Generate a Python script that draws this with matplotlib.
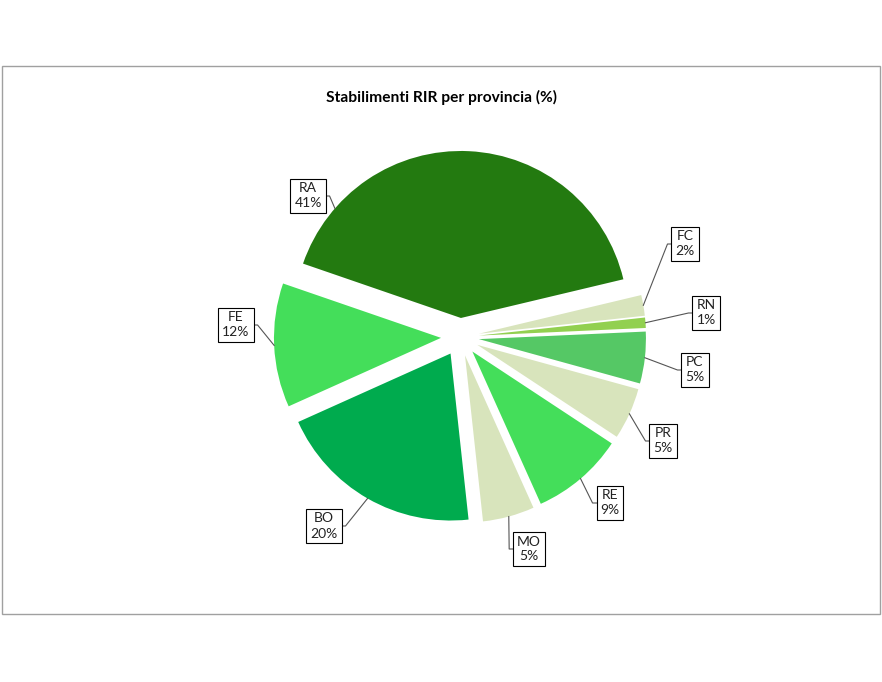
import matplotlib
matplotlib.use('Agg')
import matplotlib.pyplot as plt
from matplotlib.patches import Rectangle
import numpy as np

# Dati: stabilimenti RIR per provincia (%)
province = ['RA', 'FC', 'RN', 'PC', 'PR', 'RE', 'MO', 'BO', 'FE']
percentuali = [41, 2, 1, 5, 5, 9, 5, 20, 12]
colori = ['#237a10', '#d8e4bc', '#92d050', '#55c865', '#d8e4bc',
          '#44de5a', '#d8e4bc', '#00ab4e', '#44de5a']

# layout (pixel of figure, 882x682)
W, H = 882, 682
cx, cy, R = 460, 337, 167
label_px = [(308, 196), (685, 244), (706, 313), (695, 370), (663, 441),
            (610, 503), (529, 549), (324, 526), (236, 325)]
# angolo di aggancio della linea guida (None = centro fetta)
anchor_ang = [139, None, None, None, None, None, None, None, None]

def px2data(px, py):
    return (px - cx) / R, (cy - py) / R

plt.rcParams['font.family'] = ['Lato', 'DejaVu Sans']

fig = plt.figure(figsize=(W / 100, H / 100), dpi=100)
ax = fig.add_axes([0, 0, 1, 1])

wedges, _ = ax.pie(percentuali, colors=colori, explode=[0.114] * len(percentuali),
                   startangle=161, counterclock=False, radius=1,
                   wedgeprops=dict(linewidth=0))
ax.set_xlim(-cx / R, (W - cx) / R)
ax.set_ylim(-(H - cy) / R, cy / R)
ax.set_aspect('auto')
ax.axis('off')

# bordo area grafico
fig.patches.append(Rectangle((1.5 / W, 1 - 614 / H), 878.5 / W, 548 / H,
                             transform=fig.transFigure, fill=False,
                             edgecolor='#a0a0a0', linewidth=1))

fig.text(442 / W, 1 - 97 / H, 'Stabilimenti RIR per provincia (%)',
         ha='center', va='center', fontsize=11.2, fontweight='bold', color='black')

testi = []
for i, (p, v) in enumerate(zip(province, percentuali)):
    x, y = px2data(*label_px[i])
    t = ax.text(x, y, '%s\n%d%%' % (p, v), ha='center', va='center',
                fontsize=10, color='#222222', linespacing=1.3,
                bbox=dict(boxstyle='square,pad=0.28', facecolor='white',
                          edgecolor='black', linewidth=0.8))
    testi.append(t)

fig.canvas.draw()
inv = ax.transData.inverted()
for i, w in enumerate(wedges):
    ang = anchor_ang[i]
    if ang is None:
        ang = (w.theta1 + w.theta2) / 2
    a = np.deg2rad(ang)
    ox, oy = w.center
    x0, y0 = ox + w.r * np.cos(a), oy + w.r * np.sin(a)
    bb = testi[i].get_bbox_patch().get_window_extent()
    (bx0, by0), (bx1, by1) = inv.transform([(bb.x0, bb.y0), (bb.x1, bb.y1)])
    by = (by0 + by1) / 2
    stub = 4 / R
    if (bx0 + bx1) / 2 > x0:
        ex = bx0
        elbow = bx0 - stub
    else:
        ex = bx1
        elbow = bx1 + stub
    ax.plot([x0, elbow, ex], [y0, by, by], color='#555555', linewidth=0.8, zorder=1)

fig.savefig('out.png', dpi=100)
